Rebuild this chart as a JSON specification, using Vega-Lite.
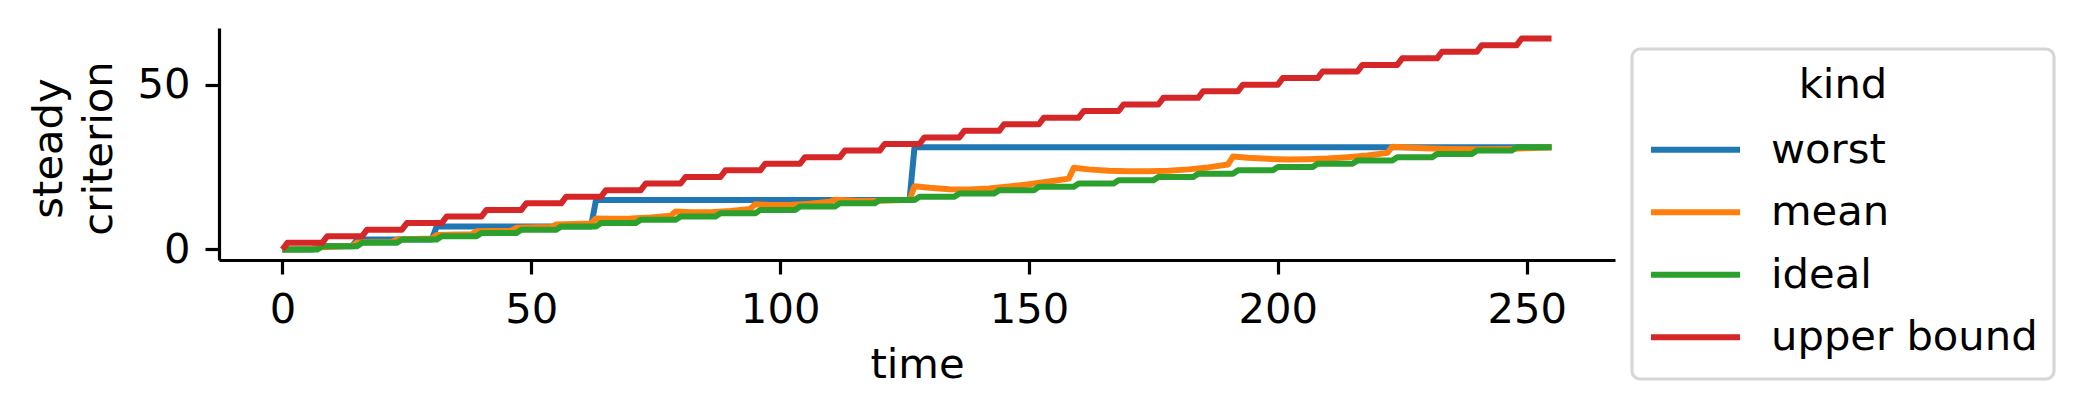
{
  "$schema": "https://vega.github.io/schema/vega-lite/v6.json",
  "autosize": {"type": "none"},
  "width": 1396,
  "height": 232,
  "padding": {"left": 219, "top": 28, "right": 466, "bottom": 160},
  "background": "white",
  "data": {
    "values": [
      {"kind": "worst", "time": 0, "value": 0},
      {"kind": "worst", "time": 6, "value": 0},
      {"kind": "worst", "time": 7, "value": 1},
      {"kind": "worst", "time": 14, "value": 1},
      {"kind": "worst", "time": 15, "value": 3},
      {"kind": "worst", "time": 30, "value": 3},
      {"kind": "worst", "time": 31, "value": 7},
      {"kind": "worst", "time": 62, "value": 7},
      {"kind": "worst", "time": 63, "value": 15},
      {"kind": "worst", "time": 126, "value": 15},
      {"kind": "worst", "time": 127, "value": 31},
      {"kind": "worst", "time": 255, "value": 31},

      {"kind": "mean", "time": 0, "value": 0},
      {"kind": "mean", "time": 6, "value": 0.1},
      {"kind": "mean", "time": 7, "value": 0.6},
      {"kind": "mean", "time": 14, "value": 1.1},
      {"kind": "mean", "time": 15, "value": 2.1},
      {"kind": "mean", "time": 22, "value": 2.3},
      {"kind": "mean", "time": 23, "value": 3.0},
      {"kind": "mean", "time": 30, "value": 3.3},
      {"kind": "mean", "time": 31, "value": 4.4},
      {"kind": "mean", "time": 38, "value": 4.6},
      {"kind": "mean", "time": 39, "value": 5.5},
      {"kind": "mean", "time": 46, "value": 5.7},
      {"kind": "mean", "time": 47, "value": 6.6},
      {"kind": "mean", "time": 54, "value": 6.8},
      {"kind": "mean", "time": 55, "value": 7.6},
      {"kind": "mean", "time": 62, "value": 7.9},
      {"kind": "mean", "time": 63, "value": 9.4},
      {"kind": "mean", "time": 66, "value": 9.3},
      {"kind": "mean", "time": 70, "value": 9.4},
      {"kind": "mean", "time": 74, "value": 9.7},
      {"kind": "mean", "time": 78, "value": 10.2},
      {"kind": "mean", "time": 79, "value": 11.5},
      {"kind": "mean", "time": 82, "value": 11.3},
      {"kind": "mean", "time": 86, "value": 11.3},
      {"kind": "mean", "time": 90, "value": 11.7},
      {"kind": "mean", "time": 94, "value": 12.3},
      {"kind": "mean", "time": 95, "value": 13.7},
      {"kind": "mean", "time": 98, "value": 13.5},
      {"kind": "mean", "time": 102, "value": 13.5},
      {"kind": "mean", "time": 106, "value": 13.9},
      {"kind": "mean", "time": 110, "value": 14.5},
      {"kind": "mean", "time": 111, "value": 15.1},
      {"kind": "mean", "time": 115, "value": 14.8},
      {"kind": "mean", "time": 119, "value": 14.7},
      {"kind": "mean", "time": 123, "value": 14.9},
      {"kind": "mean", "time": 126, "value": 15.1},
      {"kind": "mean", "time": 127, "value": 19.2},
      {"kind": "mean", "time": 130, "value": 18.7},
      {"kind": "mean", "time": 134, "value": 18.3},
      {"kind": "mean", "time": 138, "value": 18.2},
      {"kind": "mean", "time": 142, "value": 18.5},
      {"kind": "mean", "time": 146, "value": 19.1},
      {"kind": "mean", "time": 150, "value": 19.8},
      {"kind": "mean", "time": 154, "value": 20.6},
      {"kind": "mean", "time": 158, "value": 21.5},
      {"kind": "mean", "time": 159, "value": 24.8},
      {"kind": "mean", "time": 162, "value": 24.3},
      {"kind": "mean", "time": 166, "value": 23.9},
      {"kind": "mean", "time": 170, "value": 23.7},
      {"kind": "mean", "time": 174, "value": 23.7},
      {"kind": "mean", "time": 178, "value": 23.9},
      {"kind": "mean", "time": 182, "value": 24.3},
      {"kind": "mean", "time": 186, "value": 24.9},
      {"kind": "mean", "time": 190, "value": 25.8},
      {"kind": "mean", "time": 191, "value": 28.2},
      {"kind": "mean", "time": 194, "value": 27.8},
      {"kind": "mean", "time": 198, "value": 27.5},
      {"kind": "mean", "time": 202, "value": 27.3},
      {"kind": "mean", "time": 206, "value": 27.4},
      {"kind": "mean", "time": 210, "value": 27.6},
      {"kind": "mean", "time": 214, "value": 28.0},
      {"kind": "mean", "time": 218, "value": 28.5},
      {"kind": "mean", "time": 222, "value": 29.3},
      {"kind": "mean", "time": 223, "value": 31.2},
      {"kind": "mean", "time": 228, "value": 30.8},
      {"kind": "mean", "time": 234, "value": 30.5},
      {"kind": "mean", "time": 240, "value": 30.4},
      {"kind": "mean", "time": 246, "value": 30.5},
      {"kind": "mean", "time": 250, "value": 30.7},
      {"kind": "mean", "time": 255, "value": 31.0},

      {"kind": "ideal", "time": 0, "value": 0}, {"kind": "ideal", "time": 7, "value": 0},
      {"kind": "ideal", "time": 8, "value": 1}, {"kind": "ideal", "time": 15, "value": 1},
      {"kind": "ideal", "time": 16, "value": 2}, {"kind": "ideal", "time": 23, "value": 2},
      {"kind": "ideal", "time": 24, "value": 3}, {"kind": "ideal", "time": 31, "value": 3},
      {"kind": "ideal", "time": 32, "value": 4}, {"kind": "ideal", "time": 39, "value": 4},
      {"kind": "ideal", "time": 40, "value": 5}, {"kind": "ideal", "time": 47, "value": 5},
      {"kind": "ideal", "time": 48, "value": 6}, {"kind": "ideal", "time": 55, "value": 6},
      {"kind": "ideal", "time": 56, "value": 7}, {"kind": "ideal", "time": 63, "value": 7},
      {"kind": "ideal", "time": 64, "value": 8}, {"kind": "ideal", "time": 71, "value": 8},
      {"kind": "ideal", "time": 72, "value": 9}, {"kind": "ideal", "time": 79, "value": 9},
      {"kind": "ideal", "time": 80, "value": 10}, {"kind": "ideal", "time": 87, "value": 10},
      {"kind": "ideal", "time": 88, "value": 11}, {"kind": "ideal", "time": 95, "value": 11},
      {"kind": "ideal", "time": 96, "value": 12}, {"kind": "ideal", "time": 103, "value": 12},
      {"kind": "ideal", "time": 104, "value": 13}, {"kind": "ideal", "time": 111, "value": 13},
      {"kind": "ideal", "time": 112, "value": 14}, {"kind": "ideal", "time": 119, "value": 14},
      {"kind": "ideal", "time": 120, "value": 15}, {"kind": "ideal", "time": 127, "value": 15},
      {"kind": "ideal", "time": 128, "value": 16}, {"kind": "ideal", "time": 135, "value": 16},
      {"kind": "ideal", "time": 136, "value": 17}, {"kind": "ideal", "time": 143, "value": 17},
      {"kind": "ideal", "time": 144, "value": 18}, {"kind": "ideal", "time": 151, "value": 18},
      {"kind": "ideal", "time": 152, "value": 19}, {"kind": "ideal", "time": 159, "value": 19},
      {"kind": "ideal", "time": 160, "value": 20}, {"kind": "ideal", "time": 167, "value": 20},
      {"kind": "ideal", "time": 168, "value": 21}, {"kind": "ideal", "time": 175, "value": 21},
      {"kind": "ideal", "time": 176, "value": 22}, {"kind": "ideal", "time": 183, "value": 22},
      {"kind": "ideal", "time": 184, "value": 23}, {"kind": "ideal", "time": 191, "value": 23},
      {"kind": "ideal", "time": 192, "value": 24}, {"kind": "ideal", "time": 199, "value": 24},
      {"kind": "ideal", "time": 200, "value": 25}, {"kind": "ideal", "time": 207, "value": 25},
      {"kind": "ideal", "time": 208, "value": 26}, {"kind": "ideal", "time": 215, "value": 26},
      {"kind": "ideal", "time": 216, "value": 27}, {"kind": "ideal", "time": 223, "value": 27},
      {"kind": "ideal", "time": 224, "value": 28}, {"kind": "ideal", "time": 231, "value": 28},
      {"kind": "ideal", "time": 232, "value": 29}, {"kind": "ideal", "time": 239, "value": 29},
      {"kind": "ideal", "time": 240, "value": 30}, {"kind": "ideal", "time": 247, "value": 30},
      {"kind": "ideal", "time": 248, "value": 31}, {"kind": "ideal", "time": 255, "value": 31},

      {"kind": "upper bound", "time": 0, "value": 0},
      {"kind": "upper bound", "time": 1, "value": 2}, {"kind": "upper bound", "time": 8, "value": 2},
      {"kind": "upper bound", "time": 9, "value": 4}, {"kind": "upper bound", "time": 16, "value": 4},
      {"kind": "upper bound", "time": 17, "value": 6}, {"kind": "upper bound", "time": 24, "value": 6},
      {"kind": "upper bound", "time": 25, "value": 8}, {"kind": "upper bound", "time": 32, "value": 8},
      {"kind": "upper bound", "time": 33, "value": 10}, {"kind": "upper bound", "time": 40, "value": 10},
      {"kind": "upper bound", "time": 41, "value": 12}, {"kind": "upper bound", "time": 48, "value": 12},
      {"kind": "upper bound", "time": 49, "value": 14}, {"kind": "upper bound", "time": 56, "value": 14},
      {"kind": "upper bound", "time": 57, "value": 16}, {"kind": "upper bound", "time": 64, "value": 16},
      {"kind": "upper bound", "time": 65, "value": 18}, {"kind": "upper bound", "time": 72, "value": 18},
      {"kind": "upper bound", "time": 73, "value": 20}, {"kind": "upper bound", "time": 80, "value": 20},
      {"kind": "upper bound", "time": 81, "value": 22}, {"kind": "upper bound", "time": 88, "value": 22},
      {"kind": "upper bound", "time": 89, "value": 24}, {"kind": "upper bound", "time": 96, "value": 24},
      {"kind": "upper bound", "time": 97, "value": 26}, {"kind": "upper bound", "time": 104, "value": 26},
      {"kind": "upper bound", "time": 105, "value": 28}, {"kind": "upper bound", "time": 112, "value": 28},
      {"kind": "upper bound", "time": 113, "value": 30}, {"kind": "upper bound", "time": 120, "value": 30},
      {"kind": "upper bound", "time": 121, "value": 32}, {"kind": "upper bound", "time": 128, "value": 32},
      {"kind": "upper bound", "time": 129, "value": 34}, {"kind": "upper bound", "time": 136, "value": 34},
      {"kind": "upper bound", "time": 137, "value": 36}, {"kind": "upper bound", "time": 144, "value": 36},
      {"kind": "upper bound", "time": 145, "value": 38}, {"kind": "upper bound", "time": 152, "value": 38},
      {"kind": "upper bound", "time": 153, "value": 40}, {"kind": "upper bound", "time": 160, "value": 40},
      {"kind": "upper bound", "time": 161, "value": 42}, {"kind": "upper bound", "time": 168, "value": 42},
      {"kind": "upper bound", "time": 169, "value": 44}, {"kind": "upper bound", "time": 176, "value": 44},
      {"kind": "upper bound", "time": 177, "value": 46}, {"kind": "upper bound", "time": 184, "value": 46},
      {"kind": "upper bound", "time": 185, "value": 48}, {"kind": "upper bound", "time": 192, "value": 48},
      {"kind": "upper bound", "time": 193, "value": 50}, {"kind": "upper bound", "time": 200, "value": 50},
      {"kind": "upper bound", "time": 201, "value": 52}, {"kind": "upper bound", "time": 208, "value": 52},
      {"kind": "upper bound", "time": 209, "value": 54}, {"kind": "upper bound", "time": 216, "value": 54},
      {"kind": "upper bound", "time": 217, "value": 56}, {"kind": "upper bound", "time": 224, "value": 56},
      {"kind": "upper bound", "time": 225, "value": 58}, {"kind": "upper bound", "time": 232, "value": 58},
      {"kind": "upper bound", "time": 233, "value": 60}, {"kind": "upper bound", "time": 240, "value": 60},
      {"kind": "upper bound", "time": 241, "value": 62}, {"kind": "upper bound", "time": 248, "value": 62},
      {"kind": "upper bound", "time": 249, "value": 64}, {"kind": "upper bound", "time": 255, "value": 64}
    ]
  },
  "mark": {"type": "line", "strokeWidth": 6, "strokeJoin": "round"},
  "encoding": {
    "x": {
      "field": "time",
      "type": "quantitative",
      "scale": {"domain": [-12.75, 267.75], "nice": false, "zero": false},
      "axis": {"values": [0, 50, 100, 150, 200, 250], "title": "time", "titleY": 117, "titleBaseline": "alphabetic"}
    },
    "y": {
      "field": "value",
      "type": "quantitative",
      "scale": {"domain": [-3.2, 67.2], "nice": false, "zero": false},
      "axis": {
        "values": [0, 50],
        "title": ["steady", "criterion"],
        "titleX": -171,
        "titleY": 120,
        "titleAlign": "center",
        "titleBaseline": "middle",
        "titleLineHeight": 50
      }
    },
    "color": {
      "field": "kind",
      "type": "nominal",
      "title": "kind",
      "scale": {
        "domain": ["worst", "mean", "ideal", "upper bound"],
        "range": ["#1f77b4", "#ff7f0e", "#2ca02c", "#d62728"]
      }
    }
  },
  "config": {
    "view": {"stroke": null},
    "font": "DejaVu Sans",
    "axis": {
      "grid": false,
      "domainColor": "black",
      "domainWidth": 3.2,
      "tickColor": "black",
      "tickWidth": 3.2,
      "tickSize": 14,
      "labelFont": "DejaVu Sans",
      "labelFontSize": 41.7,
      "labelColor": "black",
      "labelPadding": 15,
      "labelOverlap": false,
      "labelFlush": false,
      "titleFont": "DejaVu Sans",
      "titleFontSize": 41.7,
      "titleFontWeight": "normal",
      "titleColor": "black"
    },
    "legend": {
      "orient": "none",
      "legendX": 1413,
      "legendY": 21,
      "padding": 16,
      "strokeColor": "#d6d6d6",
      "strokeWidth": 3.2,
      "cornerRadius": 8,
      "fillColor": "white",
      "titleFont": "DejaVu Sans",
      "titleFontSize": 41.7,
      "titleFontWeight": "normal",
      "titleColor": "black",
      "titleAnchor": "middle",
      "titlePadding": 18,
      "labelFont": "DejaVu Sans",
      "labelFontSize": 41.7,
      "labelColor": "black",
      "labelOffset": 28,
      "labelLimit": 500,
      "symbolType": "stroke",
      "symbolSize": 7921,
      "symbolStrokeWidth": 6,
      "clipHeight": 50,
      "rowPadding": 12.5
    }
  }
}
